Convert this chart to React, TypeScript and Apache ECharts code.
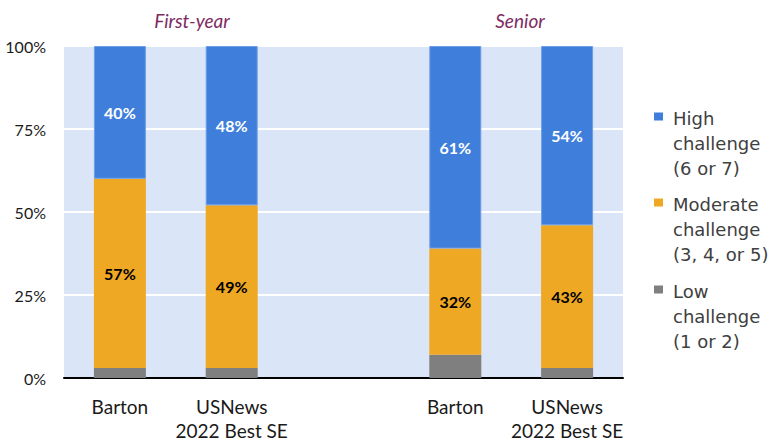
import React, { useEffect, useRef } from "react";
import * as echarts from "echarts";

const categories = ["Barton", "USNews\n2022 Best SE", "", "Barton", "USNews\n2022 Best SE"];
const lowValues = [3, 3, null, 7, 3];
const moderateValues = [57, 49, null, 32, 43];
const highValues = [40, 48, null, 61, 54];
const yTicks = [0, 25, 50, 75, 100];
const groupTitles = ["First-year", "Senior"];
const seriesNames = ["Low\nchallenge\n(1 or 2)", "Moderate\nchallenge\n(3, 4, or 5)", "High\nchallenge\n(6 or 7)"];

const BLUE = "#3F7FDB";
const ORANGE = "#EFA824";
const GRAY = "#7F7F7F";
const FONT = "Lato";
// legend icon: a small square near the top of a tall, otherwise empty box
const LEGEND_ICON =
  "path://M0,0h0.01v0.01h-0.01z M0,6.5h9v8h-9z M13.99,74.99h0.01v0.01h-0.01z";

export default function App() {
  const ref = useRef<HTMLDivElement>(null);
  useEffect(() => {
    if (!ref.current) return;
    const chart = echarts.init(ref.current, null, { renderer: "svg" });
    const legendBase = {
      orient: "vertical",
      left: 654,
      padding: 0,
      itemWidth: 14,
      itemHeight: 75,
      icon: LEGEND_ICON,
      selectedMode: false,
      itemStyle: { borderWidth: 0 },
      textStyle: {
        fontFamily: "DejaVu Sans",
        fontSize: 18,
        lineHeight: 25,
        color: "#404040",
      },
    };
    chart.setOption({
      animation: false,
      backgroundColor: "#ffffff",
      grid: {
        left: 64,
        right: 147,
        top: 46,
        bottom: 61,
        show: true,
        backgroundColor: "#DAE5F7",
        borderWidth: 0,
      },
      graphic: [
        {
          type: "text",
          x: 192,
          y: 20,
          style: {
            text: groupTitles[0],
            align: "center",
            verticalAlign: "middle",
            fontFamily: FONT,
            fontStyle: "italic",
            fontSize: 19,
            fill: "#7E2B62",
          },
        },
        {
          type: "text",
          x: 520,
          y: 20,
          style: {
            text: groupTitles[1],
            align: "center",
            verticalAlign: "middle",
            fontFamily: FONT,
            fontStyle: "italic",
            fontSize: 19,
            fill: "#7E2B62",
          },
        },
      ],
      legend: [
        { ...legendBase, top: 106, data: [seriesNames[2]] },
        { ...legendBase, top: 192, data: [seriesNames[1]] },
        { ...legendBase, top: 279, data: [seriesNames[0]] },
      ],
      xAxis: {
        type: "category",
        data: categories,
        axisLine: { show: true, lineStyle: { color: "#000000", width: 2 } },
        axisTick: { show: false },
        axisLabel: {
          interval: 0,
          fontFamily: FONT,
          fontSize: 19,
          lineHeight: 24,
          color: "#1a1a1a",
          margin: 16,
        },
        splitLine: { show: false },
      },
      yAxis: {
        type: "value",
        min: yTicks[0],
        max: yTicks[yTicks.length - 1],
        interval: 25,
        axisLine: { show: false },
        axisTick: { show: false },
        axisLabel: {
          formatter: "{value}%",
          fontFamily: FONT,
          fontSize: 16,
          color: "#1a1a1a",
          margin: 18,
        },
        splitLine: { show: true, lineStyle: { color: "#ffffff", width: 2 } },
      },
      series: [
        {
          name: seriesNames[0],
          type: "bar",
          stack: "total",
          barWidth: 52,
          data: lowValues,
          itemStyle: { color: GRAY },
          label: { show: false },
        },
        {
          name: seriesNames[1],
          type: "bar",
          stack: "total",
          barWidth: 52,
          data: moderateValues,
          itemStyle: { color: ORANGE },
          label: {
            show: true,
            position: "inside",
            formatter: "{c}%",
            fontFamily: FONT,
            fontWeight: "bold",
            fontSize: 16,
            color: "#000000",
          },
        },
        {
          name: seriesNames[2],
          type: "bar",
          stack: "total",
          barWidth: 52,
          data: highValues,
          itemStyle: { color: BLUE, borderColor: "#6E9EE6", borderWidth: 1 },
          label: {
            show: true,
            position: "inside",
            formatter: "{c}%",
            fontFamily: FONT,
            fontWeight: "bold",
            fontSize: 16,
            color: "#ffffff",
          },
        },
      ],
    });
    return () => chart.dispose();
  }, []);
  return (
    <div
      ref={ref}
      style={{ position: "fixed", left: 0, top: 0, width: 770, height: 442 }}
    />
  );
}
